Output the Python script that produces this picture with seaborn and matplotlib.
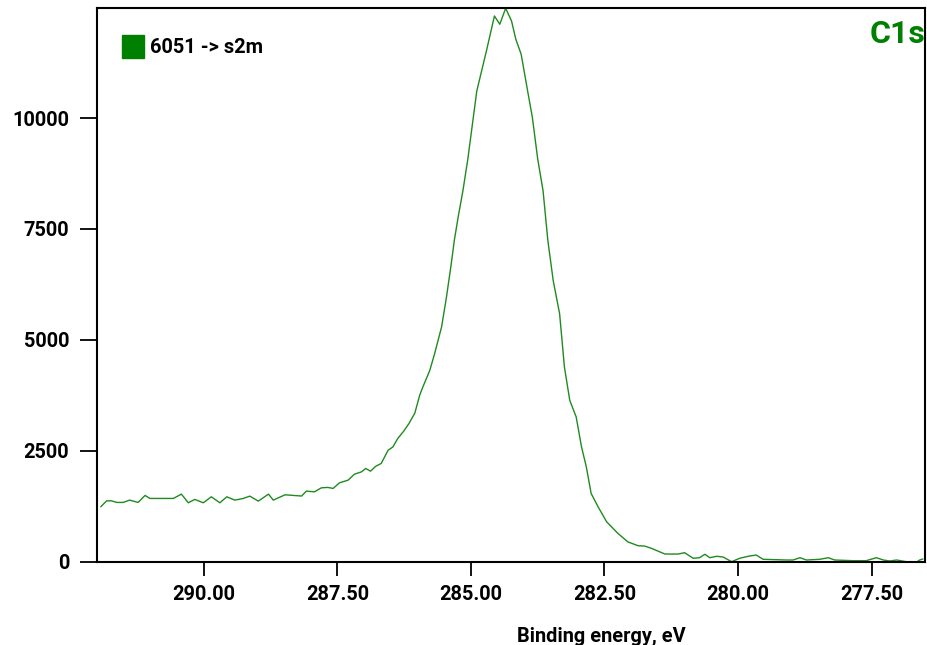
import matplotlib
matplotlib.use("Agg")
import matplotlib.pyplot as plt
from matplotlib.patches import Patch
from matplotlib.ticker import StrMethodFormatter
import seaborn as sns
import pandas as pd

# C1s spectrum, values
energy = [291.93, 291.82, 291.73, 291.63, 291.51, 291.39, 291.23, 291.10, 291.01, 290.57,
          290.42, 290.29, 290.17, 290.01, 289.86, 289.70, 289.57, 289.42, 289.26, 289.14,
          288.98, 288.79, 288.70, 288.48, 288.17, 288.08, 287.93, 287.80, 287.68, 287.58,
          287.46, 287.30, 287.18, 287.05, 286.97, 286.88, 286.78, 286.68, 286.55, 286.46,
          286.37, 286.26, 286.16, 286.05, 285.96, 285.90, 285.77, 285.68, 285.55, 285.46,
          285.37, 285.31, 285.24, 285.15, 285.06, 284.89, 284.71, 284.56, 284.46, 284.35,
          284.24, 284.16, 284.06, 283.95, 283.85, 283.75, 283.65, 283.56, 283.46, 283.34,
          283.25, 283.15, 283.03, 282.93, 282.84, 282.75, 282.62, 282.46, 282.25, 282.06,
          281.87, 281.75, 281.62, 281.37, 281.12, 281.00, 280.84, 280.72, 280.62, 280.53,
          280.40, 280.28, 280.12, 279.97, 279.81, 279.66, 279.53, 279.09, 278.97, 278.84,
          278.72, 278.47, 278.31, 278.19, 277.85, 277.60, 277.41, 277.28, 277.16, 277.03,
          276.85, 276.69, 276.60, 276.54]
counts = [1237, 1372, 1372, 1336, 1336, 1388, 1336, 1494, 1426, 1426,
          1523, 1328, 1404, 1328, 1463, 1328, 1463, 1388, 1426, 1478,
          1366, 1523, 1388, 1508, 1480, 1591, 1575, 1665, 1674, 1652,
          1778, 1838, 1973, 2025, 2101, 2041, 2153, 2214, 2513, 2588,
          2777, 2940, 3114, 3350, 3751, 3938, 4313, 4689, 5288, 5950,
          6700, 7250, 7763, 8363, 9060, 10613, 11513, 12301, 12114, 12474,
          12188, 11777, 11439, 10688, 10013, 9077, 8363, 7238, 6338, 5589,
          4388, 3638, 3263, 2588, 2138, 1539, 1238, 900, 639, 445,
          360, 353, 301, 173, 173, 203, 77, 90, 167, 90,
          122, 106, 0, 77, 122, 151, 54, 38, 38, 90,
          38, 54, 90, 38, 23, 23, 90, 38, 16, 38,
          0, -36, 38, 61]
series_label = "6051 -> s2m"
region = "C1s"
x_ticks = [290.0, 287.5, 285.0, 282.5, 280.0, 277.5]
y_ticks = [0, 2500, 5000, 7500, 10000]

df = pd.DataFrame({"energy": energy, "counts": counts})

sns.set_style("white")
plt.rcParams["font.family"] = ["Roboto", "DejaVu Sans"]
plt.rcParams["font.weight"] = "bold"
plt.rcParams["text.color"] = "black"
plt.rcParams["xtick.color"] = "black"
plt.rcParams["ytick.color"] = "black"

fig = plt.figure(figsize=(9.27, 6.45), dpi=100)
ax = fig.add_axes([97 / 927, 1 - 561.7 / 645, 828 / 927, 553.4 / 645])

sns.lineplot(data=df, x="energy", y="counts", ax=ax, color="#1f8a1f",
             linewidth=1.0, sort=False)

ax.set_xlim(292.0, 276.5)
ax.set_ylim(0, max(counts))
ax.set_xticks(x_ticks)
ax.set_yticks(y_ticks)
ax.xaxis.set_major_formatter(StrMethodFormatter("{x:.2f}"))
ax.tick_params(axis="x", bottom=True, direction="out", length=10, width=1.3, pad=7,
               labelsize=14.4, color="black", labelcolor="black")
ax.tick_params(axis="y", left=True, direction="out", length=12, width=1.3, pad=8,
               labelsize=14.4, color="black", labelcolor="black")
for lab in ax.get_xticklabels() + ax.get_yticklabels():
    lab.set_fontweight("bold")

for sp in ax.spines.values():
    sp.set_color("black")
    sp.set_linewidth(1.5)

ax.set_ylabel("")
ax.set_xlabel("Binding energy, eV", fontsize=14.4, fontweight="bold", color="black")
ax.xaxis.set_label_coords((601 - 97) / 828, -0.118)

ax.text(1.0, 0.98, region, transform=ax.transAxes, ha="right", va="top",
        fontsize=23, fontweight="bold", color="green")

ax.legend(handles=[Patch(color="green", label=series_label)], loc="upper left",
          bbox_to_anchor=(25 / 828, 1 - 27 / 553.4), frameon=False,
          borderpad=0, borderaxespad=0, handlelength=1.1, handleheight=1.35,
          handletextpad=0.3, prop={"size": 14.4, "weight": "bold"}, labelcolor="black")

fig.savefig("out.png", dpi=100)
